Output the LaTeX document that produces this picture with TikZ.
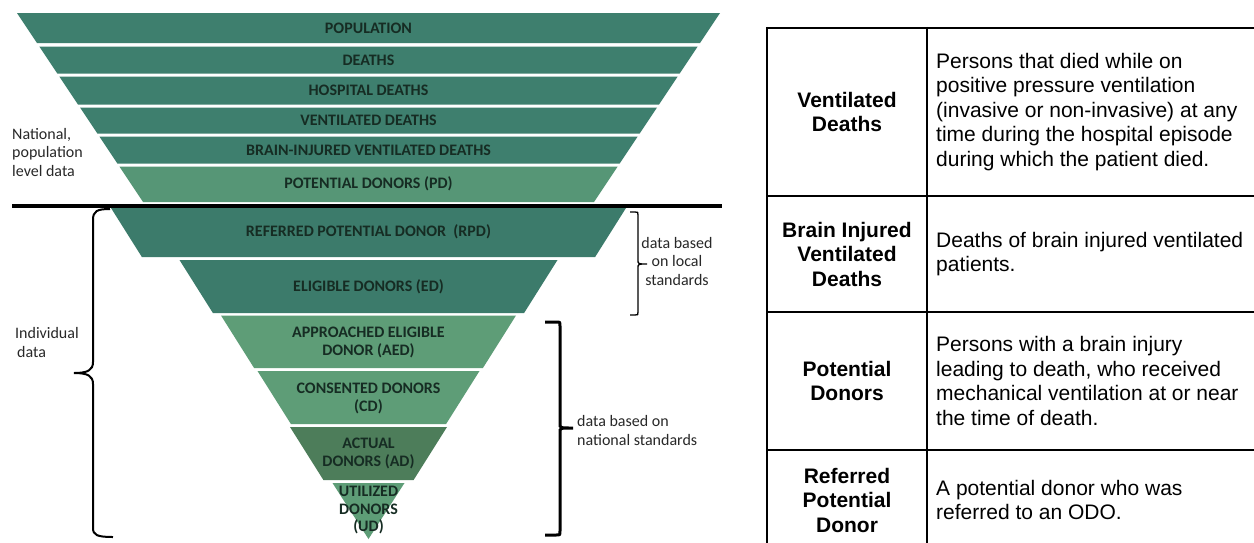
\documentclass[tikz,border=0pt]{standalone}
\usepackage{fontspec}
\setmainfont{Liberation Sans}
\newfontfamily\calib{Carlito}
\definecolor{tealA}{RGB}{62,127,110}
\definecolor{tealB}{RGB}{60,123,107}
\definecolor{greenPD}{RGB}{86,150,118}
\definecolor{greenL}{RGB}{94,157,119}
\definecolor{greenD}{RGB}{77,125,90}
\definecolor{ftext}{RGB}{22,44,35}
\definecolor{ltext}{RGB}{40,40,40}
\newcommand{\tband}[3]{\fill[#3] ({17+0.6667*(#1-13)},#1) -- ({720-0.6667*(#1-13)},#1) -- ({720-0.6667*(#2-13)},#2) -- ({17+0.6667*(#2-13)},#2) -- cycle;}
\newcommand{\lband}[4]{\fill[#4] ({368.5-#3},#1) -- ({368.5+#3},#1) -- ({368.5+#3-0.63*(#2-#1)},#2) -- ({368.5-#3+0.63*(#2-#1)},#2) -- cycle;}
\begin{document}
\begin{tikzpicture}[x=1pt,y=-1pt,
  flab/.style={font=\calib\bfseries\fontsize{16}{17.5}\selectfont, text=ftext, inner sep=0pt, align=center},
  llab/.style={font=\calib\fontsize{16}{18.5}\selectfont, text=ltext, inner sep=0pt},
  tlab/.style={font=\bfseries\fontsize{21}{24.5}\selectfont, align=center, inner sep=0pt},
  tdesc/.style={font=\fontsize{21}{24.5}\selectfont, align=left, anchor=west, inner sep=0pt},
  tline/.style={line width=2.5pt, black},
  bracethin/.style={line width=1.3pt, black},
  bracemid/.style={line width=2pt, black},
  bracethick/.style={line width=3pt, black}]
\useasboundingbox (0,0) rectangle (1254,542);
\fill[white] (0,0) rectangle (1254,542);
% upper funnel
\tband{13}{43}{tealA}
\tband{46.5}{73.5}{tealA}
\tband{76.5}{104.5}{tealA}
\tband{107.5}{133.5}{tealA}
\tband{136.5}{163.5}{tealA}
\tband{166.5}{202}{greenPD}
% lower funnel
\lband{208}{257}{257.5}{tealB}
\lband{260}{313}{189}{tealB}
\lband{315.5}{368}{147.5}{greenL}
\lband{371}{424}{111}{greenL}
\lband{427}{480}{78.5}{greenD}
\fill[greenL] (332.5,483) -- (404.5,483) -- (368.5,539) -- cycle;
% separator
\draw[line width=4.5pt] (12,206) -- (722,206);
% funnel labels
\node[flab] (pop) at (368.5,28) {POPULATION};
\node[flab] (dea) at (368.5,60) {DEATHS};
\node[flab] (hos) at (368.5,90) {HOSPITAL DEATHS};
\node[flab] (ven) at (368.5,120) {VENTILATED DEATHS};
\node[flab] (bra) at (368.5,150) {BRAIN-INJURED VENTILATED DEATHS};
\node[flab] (pd) at (368.5,184) {POTENTIAL DONORS (PD)};
\node[flab] (rpd) at (368.5,232) {REFERRED POTENTIAL DONOR\ \ (RPD)};
\node[flab] (ed) at (368.5,287) {ELIGIBLE DONORS (ED)};
\node[flab] (aed) at (368.5,342.5) {APPROACHED ELIGIBLE\\DONOR (AED)};
\node[flab] (cd) at (368.5,398.5) {CONSENTED DONORS\\(CD)};
\node[flab] (ad) at (368.5,453.5) {ACTUAL\\DONORS (AD)};
\node[flab] (ud) at (368.5,510.5) {UTILIZED\\DONORS\\(UD)};
% left labels
\node[llab, anchor=west, align=left] (nat) at (12,152) {National,\\population\\level data};
\node[llab, anchor=west, align=left] (ind) at (15,342.5) {Individual\\\hspace{2pt}data};
% braces
\draw[bracemid] (110,209) .. controls (97,209) and (93,211) .. (93,220) -- (93,362) .. controls (93,370) and (88,373) .. (74,373) .. controls (88,373) and (93,376) .. (93,384) -- (93,528) .. controls (93,535) and (97,537) .. (113,537);
\draw[bracethin] (630,212) -- (635,212) .. controls (638,212) .. (638,215) -- (638,260) .. controls (638,264) .. (647,264) .. controls (638,264) .. (638,268) -- (638,312) .. controls (638,315) .. (635,315) -- (630,315);
\draw[bracethick] (545,322) -- (556,322) .. controls (560,322) .. (560,326) -- (560,424) .. controls (560,428) .. (573,428) .. controls (560,428) .. (560,432) -- (560,531) .. controls (560,535) .. (556,535) -- (545,535);
\node[llab, align=center] (loc) at (677,261) {data based\\on local\\standards};
\node[llab, anchor=west, align=left] (nats) at (577,430.5) {data based on\\national standards};
% table
\draw[tline] (767,28) -- (1256,28);
\draw[tline] (767,196) -- (1256,196);
\draw[tline] (767,312) -- (1256,312);
\draw[tline] (767,450) -- (1256,450);
\draw[tline] (767,26.75) -- (767,544);
\draw[tline] (927,26.75) -- (927,544);
\node[tlab] (l1) at (847,112) {Ventilated\\Deaths};
\node[tdesc] (d1) at (936,112) {Persons that died while on\\positive pressure ventilation\\(invasive or non-invasive) at any\\time during the hospital episode\\during which the patient died.};
\node[tlab] (l2) at (847,254) {Brain Injured\\Ventilated\\Deaths};
\node[tdesc] (d2) at (936,254) {Deaths of brain injured ventilated\\patients.};
\node[tlab] (l3) at (847,381) {Potential\\Donors};
\node[tdesc] (d3) at (936,381) {Persons with a brain injury\\leading to death, who received\\mechanical ventilation at or near\\the time of death.};
\node[tlab] (l4) at (847,500) {Referred\\Potential\\Donor};
\node[tdesc] (d4) at (936,500) {A potential donor who was\\referred to an ODO.};
\end{tikzpicture}
\end{document}
